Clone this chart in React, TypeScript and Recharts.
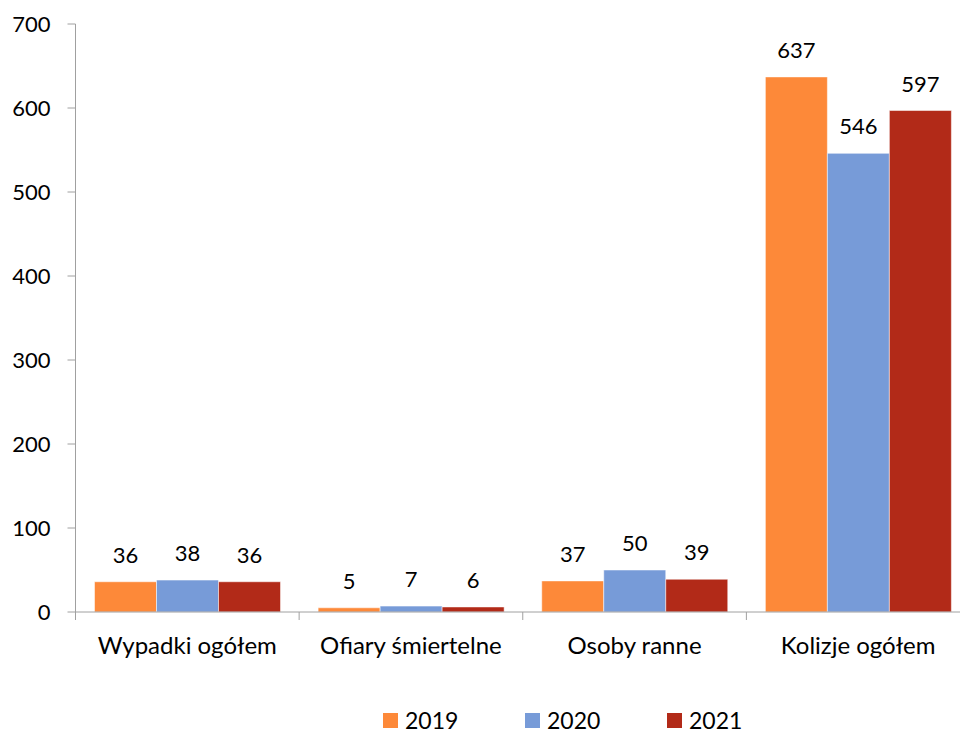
import React from 'react';
import { BarChart, Bar, XAxis, YAxis, Legend, LabelList } from 'recharts';

const categories = ['Wypadki ogółem', 'Ofiary śmiertelne', 'Osoby ranne', 'Kolizje ogółem'];
const values2019 = [36, 5, 37, 637];
const values2020 = [38, 7, 50, 546];
const values2021 = [36, 6, 39, 597];
const yTicks = [0, 100, 200, 300, 400, 500, 600, 700];

const series = [
  { key: 'y2019', name: '2019', color: '#FD8939' },
  { key: 'y2020', name: '2020', color: '#779BD8' },
  { key: 'y2021', name: '2021', color: '#B22A18' },
];

const data = categories.map((name, i) => ({
  name,
  y2019: values2019[i],
  y2020: values2020[i],
  y2021: values2021[i],
}));

const FONT = 'Lato, "Open Sans", sans-serif';
const AXIS = '#a0a0a0';
const FS = 22;

// category label plus Excel-style tick marks on the category boundaries
const CatTick = (props: any) => {
  const { x, y, width, payload, index, visibleTicksCount } = props;
  const n = visibleTicksCount || categories.length;
  const band = (width || 0) / n;
  return (
    <g>
      <line x1={x - band / 2} x2={x - band / 2} y1={y} y2={y + 8} stroke={AXIS} />
      {index === n - 1 && <line x1={x + band / 2} x2={x + band / 2} y1={y} y2={y + 8} stroke={AXIS} />}
      <text x={x} y={y + 25} dy="0.71em" textAnchor="middle" fill="#000" fontSize={24} fontFamily={FONT}>
        {payload.value}
      </text>
    </g>
  );
};

const LegendBox = ({ payload }: any) => (
  <div style={{ height: 24, lineHeight: '24px', display: 'flex', paddingLeft: 383, fontFamily: FONT, fontSize: 23, color: '#000' }}>
    {(payload || []).map((p: any) => (
      <div key={p.value} style={{ width: 142, height: 24, display: 'flex', alignItems: 'center' }}>
        <span style={{ width: 15, height: 15, background: p.color, marginRight: 7, display: 'inline-block' }} />
        <span>{p.value}</span>
      </div>
    ))}
  </div>
);

export default function App() {
  return (
    <div style={{ position: 'fixed', left: 0, top: 0, width: 960, height: 733, overflow: 'hidden', background: '#fff' }}>
      <BarChart
        width={990}
        height={733}
        data={data}
        margin={{ top: 24, right: 20, left: 0, bottom: 67 }}
        barGap={0}
        barCategoryGap={19}
        style={{ fontFamily: FONT }}
      >
        <XAxis
          dataKey="name"
          height={30}
          stroke={AXIS}
          tickLine={false}
          tickSize={0}
          tickMargin={0}
          tick={<CatTick />}
          interval={0}
        />
        <YAxis
          width={75.5}
          domain={[0, 700]}
          ticks={yTicks}
          tickSize={8}
          tickMargin={17}
          stroke={AXIS}
          tick={{ fill: '#000', fontSize: FS, fontFamily: FONT }}
        />
        <Legend verticalAlign="bottom" content={<LegendBox />} wrapperStyle={{ bottom: 1, left: 0 }} />
        {series.map((s) => (
          <Bar
            key={s.key}
            dataKey={s.key}
            name={s.name}
            fill={s.color}
            stroke="rgba(255,255,255,0.5)"
            strokeWidth={1}
            isAnimationActive={false}
          >
            <LabelList dataKey={s.key} position="top" offset={19} fill="#000" fontSize={FS} fontFamily={FONT} />
          </Bar>
        ))}
      </BarChart>
    </div>
  );
}
